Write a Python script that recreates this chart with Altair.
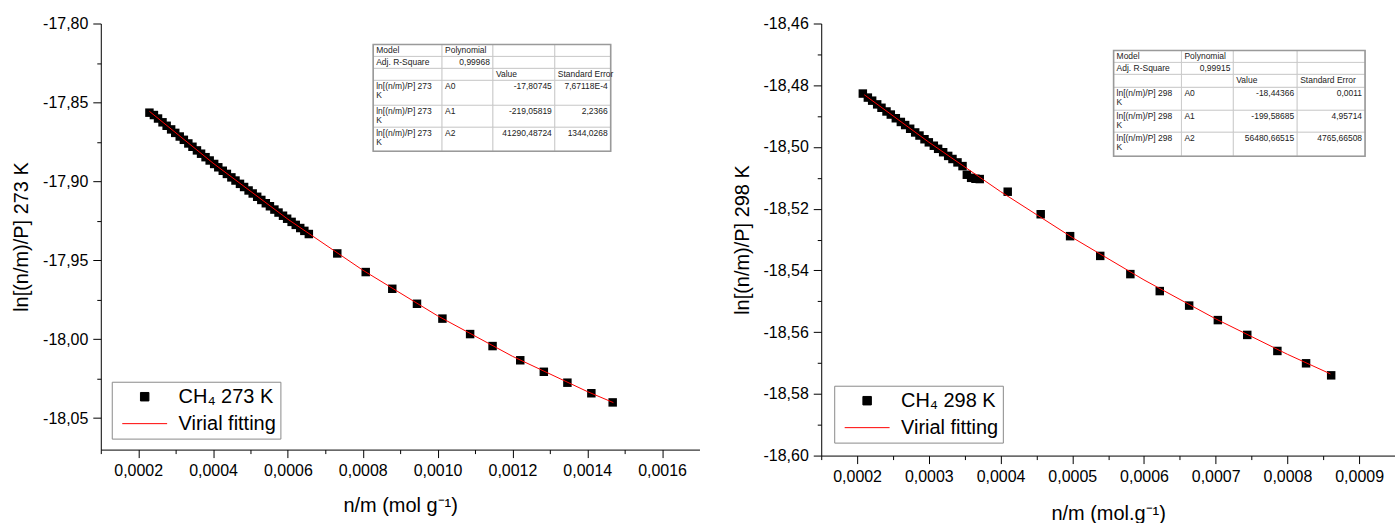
import altair as alt
import pandas as pd

FONT = "Liberation Sans"
FIT_LABEL = "Virial fitting"

# ---------------- 273 K panel data ----------------
n273 = [0.000230, 0.000242, 0.000253, 0.000265, 0.000276, 0.000288, 0.000299, 0.000311,
        0.000322, 0.000334, 0.000345, 0.000357, 0.000368, 0.000380, 0.000391, 0.000403,
        0.000414, 0.000426, 0.000437, 0.000449, 0.000460, 0.000472, 0.000483, 0.000495,
        0.000506, 0.000518, 0.000529, 0.000541, 0.000552, 0.000564, 0.000575, 0.000587,
        0.000598, 0.000610, 0.000621, 0.000633, 0.000644, 0.000656,
        0.000732, 0.000808, 0.000879, 0.000945, 0.001013, 0.001087, 0.001147, 0.001221,
        0.001284, 0.001347, 0.001411, 0.001468]
ln273 = [-17.8565, -17.8580, -17.8602, -17.8626, -17.8648, -17.8671, -17.8693, -17.8716,
         -17.8737, -17.8760, -17.8781, -17.8804, -17.8825, -17.8847, -17.8868, -17.8890,
         -17.8911, -17.8933, -17.8953, -17.8975, -17.8995, -17.9016, -17.9036, -17.9058,
         -17.9077, -17.9098, -17.9118, -17.9139, -17.9158, -17.9179, -17.9198, -17.9218,
         -17.9237, -17.9257, -17.9276, -17.9296, -17.9314, -17.9334,
         -17.9457, -17.9575, -17.9681, -17.9776, -17.9870, -17.9968, -18.0044, -18.0134,
         -18.0207, -18.0276, -18.0343, -18.0401]
fit273_n = [0.00023, 0.0004, 0.0006, 0.0008, 0.0010, 0.0012, 0.0014, 0.00147]
fit273_ln = [-17.85565, -17.88847, -17.92402, -17.95627, -17.98522, -18.01086, -18.03320, -18.04024]

# ---------------- 298 K panel data ----------------
n298 = [0.000208, 0.000215, 0.000221, 0.000228, 0.000234, 0.000241, 0.000247, 0.000254,
        0.000261, 0.000267, 0.000274, 0.000281, 0.000287, 0.000294, 0.000300, 0.000307,
        0.000313, 0.000320, 0.000327, 0.000333, 0.000340, 0.000347, 0.000353, 0.000359,
        0.000365, 0.000371,
        0.000410, 0.000456, 0.000497, 0.000539, 0.000581, 0.000622, 0.000663, 0.000703,
        0.000744, 0.000786, 0.000826, 0.000861]
ln298 = [-18.4827, -18.4840, -18.4850, -18.4862, -18.4873, -18.4885, -18.4895, -18.4907,
         -18.4919, -18.4929, -18.4941, -18.4953, -18.4963, -18.4975, -18.4985, -18.4996,
         -18.5006, -18.5017, -18.5029, -18.5039, -18.5050, -18.5062, -18.5090, -18.5100,
         -18.5103, -18.5104,
         -18.5145, -18.5218, -18.5289, -18.5353, -18.5412, -18.5467, -18.5514, -18.5561,
         -18.5609, -18.5661, -18.5701, -18.5740]
fit298_n = [0.00021, 0.0003, 0.0004, 0.0005, 0.0006, 0.0007, 0.0008, 0.00086]
fit298_ln = [-18.48308, -18.49845, -18.51446, -18.52933, -18.54308, -18.55570, -18.56718, -18.57353]

# ---------------- tick values ----------------
yticks273 = [-17.80, -17.825, -17.85, -17.875, -17.90, -17.925, -17.95, -17.975,
             -18.00, -18.025, -18.05]
xticks273 = [0.0001, 0.0002, 0.0003, 0.0004, 0.0005, 0.0006, 0.0007, 0.0008,
             0.0009, 0.0010, 0.0011, 0.0012, 0.0013, 0.0014, 0.0015, 0.0016]
yticks298 = [-18.46, -18.47, -18.48, -18.49, -18.50, -18.51, -18.52, -18.53,
             -18.54, -18.55, -18.56, -18.57, -18.58, -18.59, -18.60]
xticks298 = [0.00015, 0.0002, 0.00025, 0.0003, 0.00035, 0.0004, 0.00045, 0.0005,
             0.00055, 0.0006, 0.00065, 0.0007, 0.00075, 0.0008, 0.00085, 0.0009]

# ---------------- table texts ----------------
tbl_params = ["A0", "A1", "A2"]
tbl273_r2 = "0,99968"
tbl273_values = ["-17,80745", "-219,05819", "41290,48724"]
tbl273_errors = ["7,67118E-4", "2,2366", "1344,0268"]
tbl298_r2 = "0,99915"
tbl298_values = ["-18,44366", "-199,58685", "56480,66515"]
tbl298_errors = ["0,0011", "4,95714", "4765,66508"]


def make_axis(values, major, fmt, title, orient, title_pad, extent=None):
    kw = dict(
        values=values,
        tickCount=len(values) + 10,
        title=title,
        orient=orient,
        grid=False,
        labelExpr=f"({major}) ? replace(replace(format(datum.value, '{fmt}'), '.', ','), '\u2212', '-') : ''",
        tickSize={"condition": {"test": major, "value": 8}, "value": 4},
        tickColor="black",
        tickWidth=1,
        domainColor="black",
        domainWidth=1,
        labelColor="black",
        labelFont=FONT,
        labelFontSize=16,
        labelPadding=5,
        labelFlush=False,
        labelOverlap=False,
        titleFont=FONT,
        titleFontSize=20,
        titleFontWeight="normal",
        titleColor="black",
        titlePadding=title_pad,
    )
    if extent is not None:
        kw["minExtent"] = extent
        kw["maxExtent"] = extent
    return alt.Axis(**kw)


def table_chart(cells, right_cells, col_w, row_h, left_px, top_px, w, h):
    rects, tl, tr = [], [], []
    y = 0
    for i, rh in enumerate(row_h):
        x = 0
        for j, cw in enumerate(col_w):
            rects.append({"x": x, "x2": x + cw, "y": y, "y2": y + rh})
            t = cells[i][j]
            if t:
                if (i, j) in right_cells:
                    tr.append({"x": x + cw - 3, "y": y + 2, "t": t})
                else:
                    tl.append({"x": x + 3, "y": y + 2, "t": t})
            x += cw
        y += rh
    tw, th = sum(col_w), sum(row_h)
    xs = alt.Scale(domain=[-left_px, w - left_px], nice=False, zero=False)
    ys = alt.Scale(domain=[-top_px, h - top_px], reverse=True, nice=False, zero=False)
    X = alt.X("x:Q", scale=xs, axis=None)
    Y = alt.Y("y:Q", scale=ys, axis=None)
    cell_layer = alt.Chart(pd.DataFrame(rects)).mark_rect(
        fill="white", stroke="#c4c4c4", strokeWidth=0.8
    ).encode(x=X, x2="x2:Q", y=Y, y2="y2:Q")
    border = alt.Chart(pd.DataFrame([{"x": 0, "x2": tw, "y": 0, "y2": th}])).mark_rect(
        fillOpacity=0, stroke="#9a9a9a", strokeWidth=1.6
    ).encode(x=X, x2="x2:Q", y=Y, y2="y2:Q")
    txt = dict(baseline="top", font=FONT, fontSize=8.5, color="#222222",
               lineBreak="\n", lineHeight=9)
    left_t = alt.Chart(pd.DataFrame(tl)).mark_text(align="left", **txt).encode(
        x=X, y=Y, text="t:N")
    right_t = alt.Chart(pd.DataFrame(tr)).mark_text(align="right", **txt).encode(
        x=X, y=Y, text="t:N")
    return alt.layer(cell_layer, border, left_t, right_t)


def table_cells(temp, r2, values, errors):
    name = f"ln[(n/m)/P] {temp}\nK"
    rows = [["Model", "Polynomial", "", ""],
            ["Adj. R-Square", r2, "", ""],
            ["", "", "Value", "Standard Error"]]
    for p, v, e in zip(tbl_params, values, errors):
        rows.append([name, p, v, e])
    right = {(1, 1), (3, 2), (4, 2), (5, 2), (3, 3), (4, 3), (5, 3)}
    return rows, right


def panel(n, ln, fit_n, fit_ln, label, xdom, ydom, xaxis, yaxis, w, h, leg_off, table):
    pts_df = pd.DataFrame({"x": n, "y": ln, "series": label})
    fit_df = pd.DataFrame({"x": fit_n, "y": fit_ln, "series": FIT_LABEL})
    dom = [label, FIT_LABEL]
    xs = alt.Scale(domain=xdom, nice=False, zero=False)
    ys = alt.Scale(domain=ydom, nice=False, zero=False)
    leg = alt.Legend(
        title=None, orient="bottom-left", offset=leg_off, columns=1,
        labelFont=FONT, labelFontSize=20, labelColor="black", labelLimit=400,
        strokeColor="#8a8a8a", fillColor="white", padding=4, cornerRadius=0,
        clipHeight=22, rowPadding=5, symbolOffset=6, labelOffset=11,
        symbolStrokeWidth=1,
        symbolStrokeColor=alt.ExprRef(expr=f"datum.value == '{FIT_LABEL}' ? 'red' : 'black'"),
    )
    pts = alt.Chart(pts_df).mark_point(filled=True, opacity=1).encode(
        x=alt.X("x:Q", scale=xs, axis=xaxis),
        y=alt.Y("y:Q", scale=ys, axis=yaxis),
        color=alt.Color("series:N", scale=alt.Scale(domain=dom, range=["black", "red"]), legend=leg),
        shape=alt.Shape("series:N", scale=alt.Scale(domain=dom, range=["square", "stroke"]), legend=leg),
        size=alt.Size("series:N", scale=alt.Scale(type="point", domain=dom, range=[72, 2025], padding=0), legend=leg),
    )
    line = alt.Chart(fit_df).mark_line(strokeWidth=1).encode(
        x=alt.X("x:Q", scale=xs),
        y=alt.Y("y:Q", scale=ys),
        color=alt.Color("series:N", scale=alt.Scale(domain=dom, range=["black", "red"]), legend=None),
    )
    return alt.layer(alt.layer(pts, line), table).resolve_scale(
        x="independent", y="independent"
    ).properties(width=w, height=h)


# ---- left panel
W1, H1 = 600, 427
cells1, right1 = table_cells(273, tbl273_r2, tbl273_values, tbl273_errors)
table1 = table_chart(cells1, right1, [69, 51, 62, 56], [12, 12, 12, 25, 22, 24], 273, 21, W1, H1)
left = panel(
    n273, ln273, fit273_n, fit273_ln, "CH\u2084 273 K",
    [0.0001, 0.0017], [-18.07, -17.80],
    make_axis(xticks273, "round(datum.value*10000) % 2 == 0", ".4f", "n/m (mol g\u207b\u00b9)", "bottom", 17),
    make_axis(yticks273, "abs(round(datum.value*1000)) % 50 == 0", ".2f", "ln[(n/m)/P] 273 K", "left", 7, 62),
    W1, H1, 11, table1,
)

# ---- right panel
W2, H2 = 575, 433
cells2, right2 = table_cells(298, tbl298_r2, tbl298_values, tbl298_errors)
table2 = table_chart(cells2, right2, [68, 52, 64, 68], [12, 12, 13, 23, 22, 24], 293, 27, W2, H2)
right = panel(
    n298, ln298, fit298_n, fit298_ln, "CH\u2084 298 K",
    [0.00015, 0.00095], [-18.60, -18.46],
    make_axis(xticks298, "round(datum.value*20000) % 2 == 0", ".4f", "n/m (mol.g\u207b\u00b9)", "bottom", 19),
    make_axis(yticks298, "abs(round(datum.value*100)) % 2 == 0", ".2f", "ln[(n/m)/P] 298 K", "left", 7, 62),
    W2, H2, 13, table2,
)

chart = alt.hconcat(left, right, spacing=33).resolve_scale(
    color="independent", shape="independent", size="independent",
    x="independent", y="independent",
).resolve_legend(
    color="independent", shape="independent", size="independent",
).properties(
    padding={"left": 12, "top": 15, "right": 0, "bottom": 0},
    background="white",
).configure_view(strokeWidth=0)

chart.save("out.html", embed_options={"renderer": "svg", "actions": False})
